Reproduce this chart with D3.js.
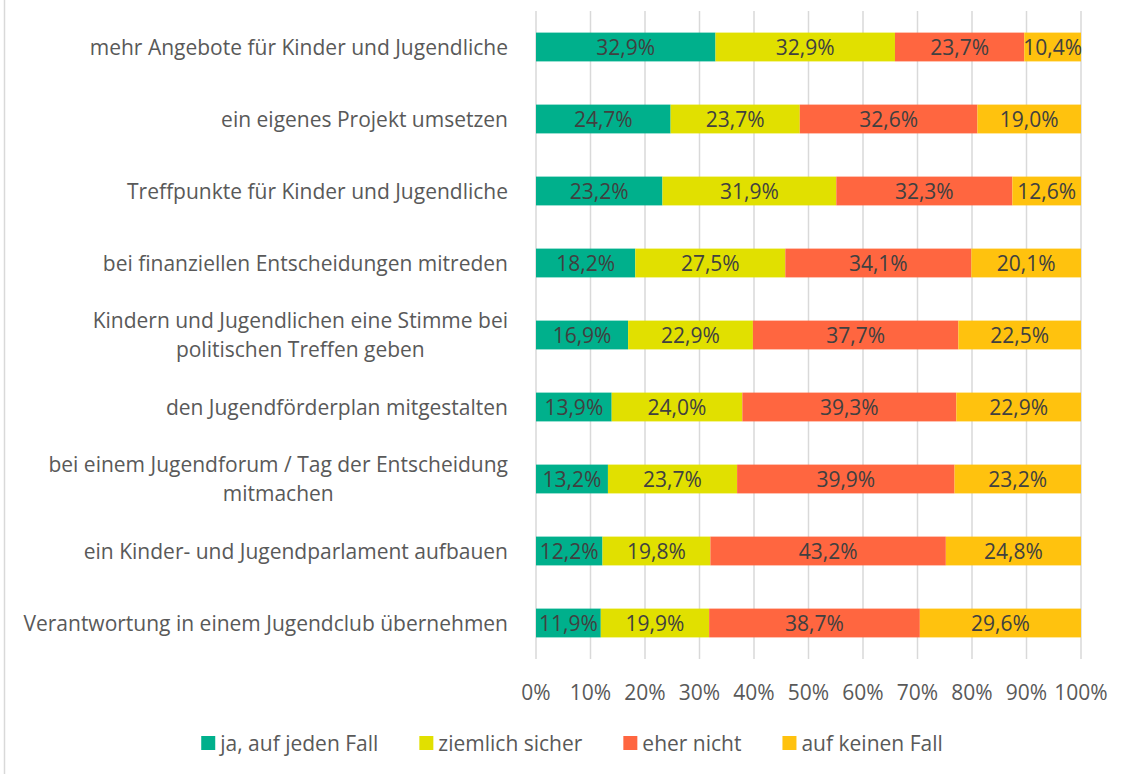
<!DOCTYPE html>
<html>
<head>
<meta charset="utf-8">
<script src="https://cdn.jsdelivr.net/npm/d3@7"></script>
<style>
	body { margin: 0; background: #fff; }
	svg { display: block; font-family: "Open Sans", Lato, sans-serif; }
</style>
</head>
<body>
<svg width="1130" height="774"></svg>
<script>
// Categories, top to bottom (label lines)
var categories = [
	["mehr Angebote für Kinder und Jugendliche"],
	["ein eigenes Projekt umsetzen"],
	["Treffpunkte für Kinder und Jugendliche"],
	["bei finanziellen Entscheidungen mitreden"],
	["Kindern und Jugendlichen eine Stimme bei", "politischen Treffen geben"],
	["den Jugendförderplan mitgestalten"],
	["bei einem Jugendforum / Tag der Entscheidung", "mitmachen"],
	["ein Kinder- und Jugendparlament aufbauen"],
	["Verantwortung in einem Jugendclub übernehmen"]
];

var seriesNames = ["ja, auf jeden Fall", "ziemlich sicher", "eher nicht", "auf keinen Fall"];
var seriesColors = ["#00b08c", "#e1e000", "#ff6640", "#ffc20e"];

// Percent values per series, same order as categories
var jaAufJedenFall = [32.9, 24.7, 23.2, 18.2, 16.9, 13.9, 13.2, 12.2, 11.9];
var ziemlichSicher = [32.9, 23.7, 31.9, 27.5, 22.9, 24.0, 23.7, 19.8, 19.9];
var eherNicht      = [23.7, 32.6, 32.3, 34.1, 37.7, 39.3, 39.9, 43.2, 38.7];
var aufKeinenFall  = [10.4, 19.0, 12.6, 20.1, 22.5, 22.9, 23.2, 24.8, 29.6];

var xTicks = [0, 10, 20, 30, 40, 50, 60, 70, 80, 90, 100];

var svg = d3.select("svg");
var width = +svg.attr("width"), height = +svg.attr("height");

var margin = { top: 11, left: 536, right: 49, bottom: 115 };
var plotW = width - margin.left - margin.right,
	plotH = height - margin.top - margin.bottom;

// Build rows for stacking (100% stacked -> normalise by row sum)
var series = [jaAufJedenFall, ziemlichSicher, eherNicht, aufKeinenFall];
var rows = categories.map((c, i) => {
	var row = { idx: i };
	var total = d3.sum(series, (s) => s[i]);
	seriesNames.forEach((name, j) => {
		row[name] = series[j][i];
		row[name + "_n"] = series[j][i] / total * 100;
	});
	return row;
});

var stack = d3.stack().keys(seriesNames.map((n) => n + "_n"));
var stacked = stack(rows);

var x = d3.scaleLinear().domain([0, 100]).range([0, plotW]);
var y = d3.scaleBand().domain(d3.range(categories.length)).range([0, plotH]).paddingInner(0.6).paddingOuter(0.3);

// left border of the chart frame
svg.append("line")
	.attr("x1", 4.5).attr("x2", 4.5)
	.attr("y1", 0).attr("y2", height)
	.attr("stroke", "#d9d9d9").attr("stroke-width", 1.5);

var g = svg.append("g").attr("transform", "translate(" + margin.left + "," + margin.top + ")");

// gridlines
g.append("g")
	.selectAll("line")
	.data(xTicks)
	.enter().append("line")
	.attr("x1", (d) => x(d)).attr("x2", (d) => x(d))
	.attr("y1", 0).attr("y2", plotH)
	.attr("stroke", "#d9d9d9").attr("stroke-width", 1.5);

// bars
var layer = g.selectAll("g.layer")
	.data(stacked)
	.enter().append("g")
	.attr("class", "layer")
	.attr("fill", (d, i) => seriesColors[i]);

layer.selectAll("rect")
	.data((d) => d)
	.enter().append("rect")
	.attr("x", (d) => x(d[0]))
	.attr("width", (d) => x(d[1]) - x(d[0]))
	.attr("y", (d) => y(d.data.idx))
	.attr("height", y.bandwidth());

// value labels
layer.each(function (s, j) {
	d3.select(this).selectAll("text")
		.data(s)
		.enter().append("text")
		.attr("x", (d) => (x(d[0]) + x(d[1])) / 2)
		.attr("y", (d) => y(d.data.idx) + y.bandwidth() / 2)
		.attr("dy", "0.36em")
		.attr("text-anchor", "middle")
		.attr("fill", "#404040")
		.style("font-size", "21px")
		.text((d) => d.data[seriesNames[j]].toFixed(1).replace(".", ",") + "%");
});

// category labels
var labelRight = -28;
var catLabel = g.append("g")
	.selectAll("text")
	.data(categories)
	.enter().append("text")
	.attr("fill", "#595959")
	.style("font-size", "21px")
	.attr("y", (d, i) => y(i) + y.bandwidth() / 2);

catLabel.each(function (lines, i) {
	var t = d3.select(this);
	if (lines.length === 1) {
		t.attr("x", labelRight).attr("text-anchor", "end").attr("dy", "0.36em").text(lines[0]);
	} else {
		// multi-line: centre lines on each other, block right-aligned
		var probe = t.append("tspan").text(lines[0]);
		var w = probe.node().getComputedTextLength();
		probe.remove();
		var cx = labelRight - w / 2;
		t.attr("text-anchor", "middle");
		lines.forEach((ln, k) => {
			t.append("tspan")
				.attr("x", cx)
				.attr("dy", k === 0 ? (0.36 - 0.67) + "em" : "1.34em")
				.text(ln);
		});
	}
});

// x axis labels
g.append("g")
	.selectAll("text")
	.data(xTicks)
	.enter().append("text")
	.attr("x", (d) => x(d))
	.attr("y", plotH + 33)
	.attr("dy", "0.36em")
	.attr("text-anchor", "middle")
	.attr("fill", "#595959")
	.style("font-size", "21px")
	.text((d) => d + "%");

// legend
var legend = svg.append("g").attr("transform", "translate(0,743)");
var items = legend.selectAll("g")
	.data(seriesNames)
	.enter().append("g");

items.append("rect")
	.attr("width", 14).attr("height", 14)
	.attr("y", -7)
	.attr("fill", (d, i) => seriesColors[i]);

items.append("text")
	.attr("x", 19)
	.attr("dy", "0.36em")
	.attr("fill", "#595959")
	.style("font-size", "21px")
	.text((d) => d);

var pos = 0, offsets = [];
items.each(function (d, i) {
	var w = 19 + this.querySelector("text").getComputedTextLength();
	offsets.push(pos);
	pos += w + 41;
});
var totalW = pos - 41;
var startX = 572 - totalW / 2;
items.attr("transform", (d, i) => "translate(" + (startX + offsets[i]) + ",0)");
</script>
</body>
</html>
